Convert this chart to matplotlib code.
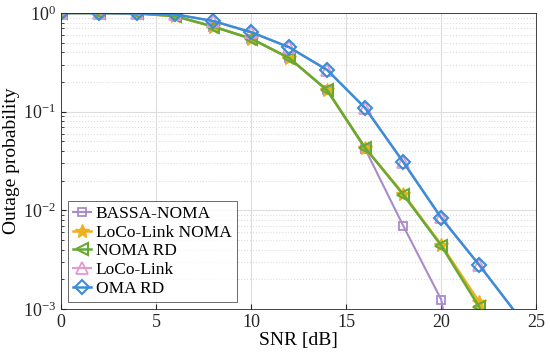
import numpy as np
import matplotlib.pyplot as plt

plt.rcParams['font.family'] = ['Liberation Serif', 'DejaVu Serif']
plt.rcParams['mathtext.fontset'] = 'stix'

snr = [0, 2, 4, 6, 8, 10, 12, 14, 16, 18, 20, 22, 24]

bassa_noma = [1.0, 1.0, 0.99, 0.93, 0.73, 0.55, 0.35, 0.165, 0.042, 0.007, 0.00125, 1e-5, 1e-6]
loco_noma = [1.0, 1.0, 0.99, 0.93, 0.73, 0.55, 0.35, 0.165, 0.043, 0.0148, 0.0045, 0.00118, 3e-4]
noma_rd = [1.0, 1.0, 0.99, 0.93, 0.73, 0.55, 0.35, 0.165, 0.043, 0.0145, 0.0044, 0.00105, 2.5e-4]
loco_link = [1.0, 1.0, 0.99, 0.97, 0.83, 0.64, 0.45, 0.265, 0.109, 0.031, 0.0085, 0.0028, 8.8e-4]
oma_rd = [1.0, 1.0, 0.99, 0.97, 0.83, 0.64, 0.45, 0.265, 0.109, 0.031, 0.0084, 0.0028, 8.8e-4]

fig = plt.figure(figsize=(5.5, 3.62), dpi=100)
ax = fig.add_axes([0.111, 0.146, 0.864, 0.818])

mk = slice(0, 12)
ax.semilogy(snr, bassa_noma, color='#a98bcc', marker='s', mfc='none', ms=6, lw=1.5, mew=1.3, markevery=mk, label='BASSA-NOMA')
ax.semilogy(snr, loco_noma, color='#edb120', marker='*', ms=10, lw=1.8, markevery=mk, label='LoCo-Link NOMA')
ax.semilogy(snr, noma_rd, color='#66aa33', marker='<', mfc='none', ms=8, lw=1.8, mew=1.5, markevery=mk, label='NOMA RD')
ax.semilogy(snr, loco_link, color='#e39ad0', marker='^', mfc='none', ms=8, lw=1.5, mew=1.3, markevery=mk, label='LoCo-Link')
ax.semilogy(snr, oma_rd, color='#3a8dd6', marker='D', mfc='none', ms=7, lw=1.8, mew=1.5, markevery=mk, label='OMA RD')

ax.set_xlim(0, 25)
ax.set_ylim(1e-3, 1)
ax.set_xticks([0, 5, 10, 15, 20, 25])
ax.set_xlabel('SNR [dB]', fontsize=14, labelpad=1)
ax.set_ylabel('Outage probability', fontsize=14, labelpad=2)
ax.tick_params(labelsize=13, direction='in', which='both', colors='#262626')
ax.tick_params(axis='y', which='minor', length=2)

ax.grid(True, which='major', color='#dddddd', lw=0.8)
ax.grid(True, which='minor', color='#dddddd', lw=0.8, ls=':')
for s in ax.spines.values():
    s.set_color('#262626')
    s.set_linewidth(0.6)

leg = ax.legend(loc='lower left', fontsize=12.5, frameon=True, fancybox=False,
                edgecolor='#262626', borderpad=0.3, labelspacing=0.15,
                handlelength=1.0, handletextpad=0.3, borderaxespad=0.4)
leg.get_frame().set_linewidth(0.6)

fig.savefig('out.png', dpi=100)
